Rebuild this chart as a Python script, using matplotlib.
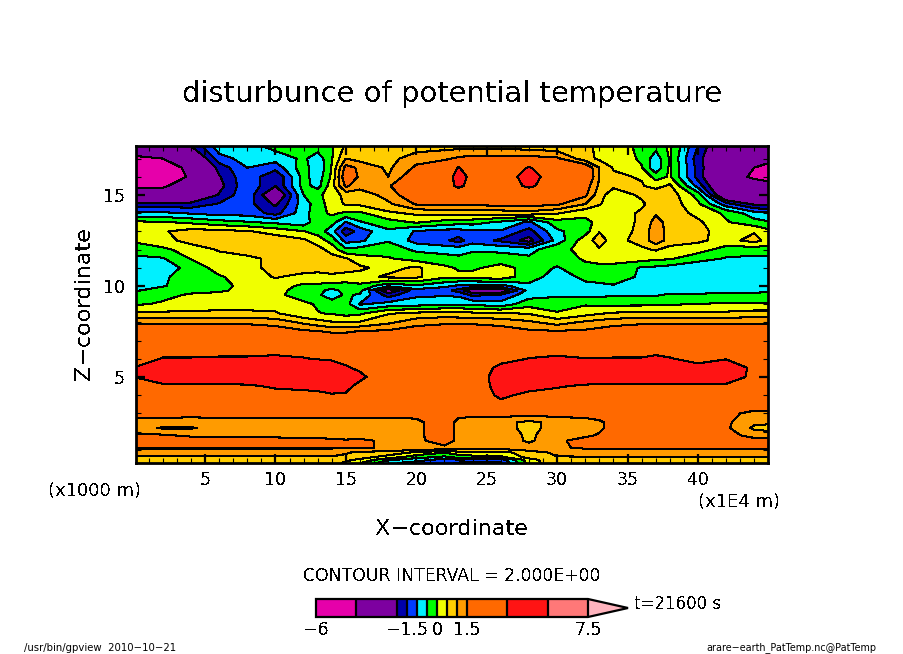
# Potential temperature disturbance, gpview style contour plot
import matplotlib
matplotlib.use('Agg')
import matplotlib.pyplot as plt
from matplotlib.colors import ListedColormap, BoundaryNorm
from matplotlib.ticker import MultipleLocator
import numpy as np

W, H = 904, 654

levels = [-6, -4, -2, -1.5, -1, -0.5, 0, 0.5, 1, 1.5, 3.5, 5.5, 7.5]
band_colors = ['#e600aa', '#7d00a0', '#0000aa', '#003cff', '#00f0ff', '#00ff00',
               '#f0ff00', '#ffcd00', '#ff9b00', '#ff6900', '#ff1414', '#ff7878']
over_color = '#ffb4be'
cbar_ticks = [-6, -1.5, 0, 1.5, 7.5]
cbar_labels = ['\u22126', '\u22121.5', '0', '1.5', '7.5']

x_coord = [0.1, 2, 4, 6, 8, 10, 12, 13, 14, 15, 16, 18, 20, 22, 23, 24, 26, 28, 30,
           32, 33, 34, 36, 37, 38, 40, 42, 44, 45]
z_coord = [17.69, 17, 16.5, 16, 15.5, 15, 14.5, 14, 13.5, 13, 12.5, 12, 11.5, 11, 10.5,
           10, 9.75, 9.5, 9, 8.5, 8, 7.5, 7, 6.5, 6, 5.5, 5, 4.5, 4, 3.5, 3, 2.5, 2.2,
           1.8, 1.5, 1.1, 0.85, 0.6, 0.45, 0.275]

# one row per z_coord
theta = [
    [-3.2,-3.0,-2.0,-0.7,-0.7,-0.3,-0.3,-0.2,-0.05,0.6,0.7,0.7,0.7,0.8,0.8,0.8,0.8,0.7,0.6,0.6,0.4,0.2,-0.1,-0.3,0.1,-1.5,-3,-3,-3],
    [-4.2,-4.0,-3,-1.2,-0.8,-0.8,-0.4,-0.8,-0.05,1.0,0.8,0.8,1.3,1.4,1.6,1.7,1.7,1.7,1.6,0.7,0.4,0.2,-0.05,-0.8,0.05,-1.8,-3,-3,-3.5],
    [-5,-5,-3.5,-1.8,-1.0,-1.3,-0.2,-1.0,0.05,1.7,1.4,0.9,1.6,2,3.6,2.5,2.5,3.6,2.5,2.0,1.0,0.45,0.02,-0.9,0.1,-1.7,-3.2,-4.0,-4.5],
    [-5.5,-5,-3.8,-2.05,-1.1,-1.98,-0.3,-0.8,0.1,2.0,1.4,1.0,2.0,2.5,4.2,3,2.5,4.2,2.5,2.2,1.0,0.6,0.45,-0.2,0.05,-1.7,-3.4,-4.2,-4.5],
    [-4.3,-4.2,-3.2,-2.2,-1.1,-1.98,-0.3,-0.7,0.3,1.6,1.2,1.4,2.5,2.8,3.8,3,2.5,3.8,2.5,1.8,0.9,0.6,0.55,0.3,0.6,-1.2,-3.2,-3.4,-3.5],
    [-3.2,-3.2,-3,-1.95,-1.1,-2.8,-0.5,-0.1,0.2,0.7,0.7,1.2,2,2.3,2.3,2.3,2.3,2.3,2.0,1.6,0.7,0.2,0.6,0.9,0.8,-0.2,-3,-3.2,-3.2],
    [-1.8,-1.8,-1.8,-1.45,-1.3,-2.1,-0.7,-0.3,0.3,0.55,0.6,0.9,1.55,1.55,1.55,1.6,1.7,1.7,1.6,1.0,0.55,0.2,0.4,0.8,0.8,0.1,-1.3,-2.1,-2.2],
    [-0.9,-0.9,-1.05,-1.2,-1.2,-1.7,-0.7,-0.2,0.1,-0.1,-0.1,0.4,0.6,0.7,0.7,0.7,0.7,0.8,0.55,0.1,0.1,0.15,0.6,0.95,0.8,0.35,-0.1,-0.8,-0.9],
    [0.1,0.05,-0.1,-0.3,-0.45,-0.6,-0.8,-0.1,-0.3,-1.05,-0.55,-0.2,0.05,-0.2,-0.3,-0.3,-0.6,-1.1,-0.2,-0.1,0.1,0.2,0.6,1.2,0.8,0.6,0.05,-0.3,-0.45],
    [0.3,0.45,0.7,0.65,0.55,0.3,0.02,-0.2,-0.8,-1.8,-1.3,-0.6,-1.05,-1.2,-1.2,-1.1,-1.05,-1.7,-0.6,-0.2,0.48,0.1,0.7,1.3,0.8,0.7,0.2,0.45,0.15],
    [0.1,0.3,0.7,0.85,0.8,0.8,0.6,0.25,-0.2,-1.2,-1.1,-0.55,-1.2,-1.4,-1.7,-1.2,-1.6,-2.2,-0.8,0.3,0.7,0.3,0.7,1.3,0.8,0.6,0.3,0.7,0.3],
    [-0.3,-0.1,0.2,0.55,0.7,0.9,0.8,0.7,0.3,-0.4,-0.3,-0.2,-0.6,-0.7,-0.7,-0.6,-0.6,-0.7,-0.1,0.1,0.45,0.3,0.4,0.55,0.3,0.2,-0.2,-0.3,-0.2],
    [-0.6,-0.55,0.02,0.3,0.4,0.6,0.9,0.8,0.7,0.55,0.2,0.05,-0.2,-0.3,-0.4,-0.2,-0.3,-0.4,-0.2,0.05,0.2,0.25,0.2,0.1,0.05,-0.3,-0.55,-0.6,-0.6],
    [-0.9,-0.8,-0.3,0.2,0.3,0.7,0.8,0.7,0.7,0.7,0.6,0.3,0.6,0.1,-0.05,-0.1,0.2,-0.2,-0.55,-0.1,-0.15,-0.2,-0.55,-0.6,-0.7,-0.9,-0.9,-0.9,-0.9],
    [-0.85,-0.6,-0.2,-0.05,0.2,0.55,0.3,0.3,0.4,0.3,0.3,0.6,0.6,0.1,0.1,0.2,0.3,-0.3,-0.7,-0.4,-0.4,-0.2,-0.6,-0.8,-0.9,-0.9,-0.9,-0.9,-0.9],
    [-0.7,-0.55,-0.2,-0.1,0.1,0.2,-0.1,-0.1,-0.2,-0.2,-0.1,-0.9,-0.6,-0.9,-1.1,-1.2,-1.2,-0.6,-0.6,-0.6,-0.55,-0.55,-0.8,-0.8,-0.8,-0.8,-0.75,-0.7,-0.7],
    [-0.55,-0.2,-0.1,-0.05,0.1,0.15,-0.2,-0.3,-0.7,-0.3,-0.3,-2.5,-1.2,-1.3,-1.7,-2.5,-2.5,-0.8,-0.7,-0.7,-0.6,-0.7,-0.7,-0.7,-0.75,-0.75,-0.6,-0.6,-0.55],
    [-0.2,-0.1,0.05,0.1,0.15,0.1,-0.2,-0.4,-0.8,-0.4,-0.6,-1.7,-1.1,-1.05,-1.1,-1.6,-1.4,-0.7,-0.6,-0.6,-0.6,-0.55,-0.55,-0.55,-0.4,-0.4,-0.4,-0.4,-0.4],
    [-0.05,0.05,0.2,0.3,0.3,0.3,0.1,-0.05,-0.2,-0.3,-1.05,-0.8,-0.7,-0.6,-0.55,-0.6,-0.8,-0.2,-0.1,-0.05,-0.1,-0.1,-0.1,-0.05,-0.05,0.02,0.05,0.05,0.05],
    [0.6,0.6,0.6,0.6,0.6,0.55,0.1,0.02,-0.05,-0.2,-0.1,0.45,0.6,0.7,0.65,0.6,0.55,0.45,0.02,0.3,0.45,0.55,0.6,0.6,0.6,0.6,0.6,0.7,0.7],
    [1.4,1.4,1.4,1.4,1.4,1.3,0.9,0.7,0.55,0.55,0.55,0.9,1.3,1.4,1.4,1.4,1.3,1.1,0.8,1.1,1.2,1.3,1.4,1.4,1.4,1.4,1.4,1.4,1.4],
    [1.9,1.9,1.9,1.9,1.9,1.8,1.6,1.55,1.4,1.4,1.55,1.6,1.8,1.9,1.9,1.9,1.8,1.6,1.55,1.6,1.7,1.8,1.9,1.9,1.9,1.9,1.9,1.9,1.9],
    [2.2,2.2,2.2,2.2,2.2,2.2,2.2,2.2,2.2,2.2,2.2,2.2,2.2,2.2,2.2,2.2,2.2,2.2,2.2,2.2,2.2,2.2,2.2,2.2,2.2,2.2,2.2,2.2,2.2],
    [2.6,2.9,2.9,2.9,2.9,2.9,2.9,2.9,2.9,2.8,2.6,2.4,2.4,2.4,2.4,2.4,2.6,2.9,2.9,2.9,2.9,2.9,2.9,2.9,2.9,2.9,2.9,2.4,2.4],
    [2.8,3.6,3.6,3.7,3.7,3.9,3.6,3.4,3.2,3.0,2.6,2.2,2.2,2.2,2.2,2.2,2.9,3.55,3.8,3.55,3.55,3.6,3.6,3.9,3.6,3.0,3.4,2.4,2.2],
    [3.6,5,5,5,5,5,5,5,4.8,3.7,3.2,2.2,2.2,2.2,2.2,2.2,4.0,5,5,5,5,5,5,5,5,4,5,3.0,2.4],
    [3.55,5,5,5,5,5,5,5,5,5,3.9,2.2,2.2,2.2,2.2,2.2,4.5,5,5,5,5,5,5,5,5,5,5,2.8,2.4],
    [2.8,3.0,3.1,3.1,3.2,3.8,3.9,4.0,4.0,4.0,3.0,2.2,2.2,2.2,2.2,2.2,4.3,4.2,3.7,3.2,3.1,3.0,3,3,3,3,3,2.6,2.3],
    [2.6,2.6,2.6,2.6,2.6,2.7,3.0,3.1,3.4,3.3,2.4,2.2,2.2,2.2,2.2,2.2,3.9,3.0,2.7,2.6,2.6,2.6,2.6,2.6,2.6,2.6,2.6,2.4,2.3],
    [2.2,2.2,2.2,2.2,2.2,2.2,2.2,2.2,2.2,2.2,2.2,2.2,2.2,2.2,2.2,2.2,3.0,2.4,2.2,2.2,2.2,2.2,2.2,2.2,2.2,2.2,2.2,2.2,2.2],
    [1.7,1.7,1.65,1.7,1.7,1.7,1.7,1.7,1.7,1.7,1.7,1.7,1.7,1.9,1.7,1.7,1.7,1.7,1.7,1.7,1.8,2.0,2.1,2.1,2.0,2.0,1.8,1.2,1.2],
    [1.3,1.3,1.3,1.3,1.3,1.3,1.3,1.3,1.3,1.3,1.3,1.3,1.35,1.9,1.3,1.2,1.2,0.85,1.2,1.3,1.4,1.7,2,2,1.8,1.9,1.6,1.1,1.1],
    [1.2,0.95,0.95,1.2,1.2,1.2,1.2,1.2,1.2,1.2,1.2,1.3,1.35,1.9,1.3,1.2,1.2,0.85,1.2,1.3,1.4,1.7,2,2,1.8,1.9,1.6,0.9,0.8],
    [1.6,1.55,1.4,1.3,1.3,1.3,1.3,1.3,1.3,1.3,1.3,1.3,1.35,1.9,1.3,1.3,1.3,0.9,1.3,1.4,1.55,1.7,1.9,1.9,1.8,1.8,1.7,1.3,1.3],
    [1.8,1.8,1.8,1.8,1.8,1.8,1.7,1.7,1.6,1.55,1.6,1.4,1.4,1.7,1.4,1.4,1.4,0.9,1.4,1.7,1.7,1.8,1.8,1.8,1.8,1.8,1.8,1.7,1.7],
    [1.55,1.55,1.55,1.55,1.55,1.55,1.55,1.55,1.55,1.55,1.55,1.45,1.45,1.4,1.3,1.2,1.2,1.3,1.45,1.55,1.55,1.55,1.55,1.55,1.55,1.55,1.55,1.55,1.55],
    [1.1,1.1,1.1,1.1,1.1,1.1,1.1,1.1,1.1,1.05,0.9,0.8,0.4,0.02,0.3,0.4,0.3,0.8,1.1,1.2,1.2,1.2,1.2,1.2,1.2,1.2,1.2,1.2,1.2],
    [0.98,0.98,0.98,0.98,0.98,0.98,0.98,0.98,0.98,0.9,0.7,0.3,-0.3,-0.6,-0.3,-0.2,-0.1,0.7,0.98,0.98,0.98,0.98,0.98,0.98,0.98,0.98,0.98,0.98,0.98],
    [0.9,0.9,0.9,0.9,0.9,0.9,0.9,0.9,0.9,0.6,0.4,-0.4,-0.8,-1.2,-1.05,-1.2,-1.3,0.3,0.9,0.9,0.9,0.9,0.9,0.9,0.9,0.9,0.9,0.9,0.9],
    [0.85,0.85,0.85,0.85,0.85,0.85,0.85,0.85,0.7,0.4,0.02,-0.9,-1.2,-1.4,-1.55,-1.7,-1.55,0.2,0.9,0.85,0.85,0.85,0.85,0.85,0.85,0.85,0.85,0.85,0.85],
]


def fig_rect(left, top, right, bottom):
    return [left / W, 1 - bottom / H, (right - left) / W, (bottom - top) / H]


plt.rcParams['text.antialiased'] = False
plt.rcParams['font.family'] = 'DejaVu Sans'

fig = plt.figure(figsize=(W / 100, H / 100), dpi=100)
ax = fig.add_axes(fig_rect(136, 146, 768, 463))

cmap = ListedColormap(band_colors)
cmap.set_over(over_color)
norm = BoundaryNorm(levels, cmap.N)
x = np.array(x_coord)
z = np.array(z_coord)
data = np.array(theta)

cf = ax.contourf(x, z, data, levels=levels, cmap=cmap, norm=norm, extend='max')
ax.contour(x, z, data, levels=levels, colors='k', linewidths=0.75, linestyles='solid', antialiased=False)

ax.set_xlim(0.1, 44.97)
ax.set_ylim(0.275, 17.69)
ax.xaxis.set_major_locator(MultipleLocator(5))
ax.xaxis.set_minor_locator(MultipleLocator(1))
ax.yaxis.set_major_locator(MultipleLocator(5))
ax.yaxis.set_minor_locator(MultipleLocator(1))
ax.tick_params(which='major', direction='in', length=6.5, width=1.6, top=True, right=True, labelsize=12.5)
ax.tick_params(axis='x', which='major', pad=6)
ax.tick_params(axis='y', which='major', pad=8)
ax.tick_params(which='minor', direction='in', length=3.5, width=0.8, top=True, right=True)
for s in ax.spines.values():
    s.set_linewidth(2)

fig.text(452 / W, 1 - 94 / H, 'disturbunce of potential temperature', ha='center', va='center', fontsize=20.9)
fig.text(452 / W, 1 - 529 / H, 'X\u2212coordinate', ha='center', va='center', fontsize=16)
fig.text(84 / W, 1 - 304 / H, 'Z\u2212coordinate', ha='center', va='center', rotation=90, fontsize=16)
fig.text(95 / W, 1 - 491 / H, '(x1000 m)', ha='center', va='center', fontsize=13)
fig.text(739 / W, 1 - 502 / H, '(x1E4 m)', ha='center', va='center', fontsize=13)
fig.text(452 / W, 1 - 576 / H, 'CONTOUR INTERVAL = 2.000E+00', ha='center', va='center', fontsize=12.4)
fig.text(634 / W, 1 - 604 / H, 't=21600 s', ha='left', va='center', fontsize=12)
# small footers stay readable only with smoothing
fig.text(24 / W, 1 - 648 / H, '/usr/bin/gpview  2010\u221210\u221221', ha='left', va='center', fontsize=7.3,
         antialiased=True)
fig.text(876 / W, 1 - 648 / H, 'arare\u2212earth_PatTemp.nc@PatTemp', ha='right', va='center', fontsize=6.9,
         antialiased=True)

cax = fig.add_axes(fig_rect(316, 599, 628, 617))
cbar = fig.colorbar(cf, cax=cax, orientation='horizontal', spacing='proportional',
                    extendfrac=40 / 272, drawedges=True)
cbar.set_ticks(cbar_ticks, labels=cbar_labels)
cbar.ax.minorticks_off()
cbar.ax.tick_params(length=0, labelsize=12.5, pad=3)
cbar.outline.set_linewidth(1.6)
cbar.dividers.set_linewidth(1.6)

fig.savefig('out.png', dpi=100)
